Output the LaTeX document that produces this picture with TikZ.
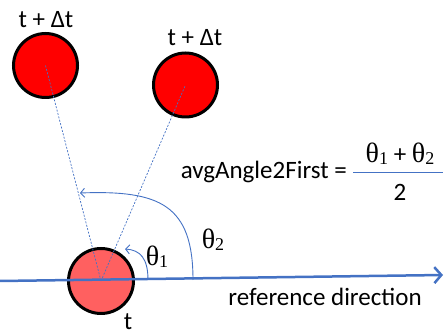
\documentclass[tikz,border=0pt]{standalone}
\usepackage{fontspec}
\setmainfont{Carlito}
\newfontfamily\thfont{Liberation Serif}
\usetikzlibrary{arrows.meta}
\definecolor{lblue}{RGB}{68,114,196}
\definecolor{lightred}{RGB}{255,96,96}
\newcommand\thsub[1]{{\thfont\fontsize{28}{28}\selectfont θ}\raisebox{-0.4ex}{\thfont\fontsize{18}{18}\selectfont #1}}
\tikzset{
  ball/.style={circle, draw=black, line width=3pt, inner sep=0pt, minimum size=64pt},
  lbl/.style={font=\fontsize{25}{25}\selectfont, inner sep=0pt},
  thlbl/.style={inner sep=0pt},
  guide/.style={draw=lblue, line width=0.7pt, dash pattern=on 2pt off 1.5pt},
  angarc/.style={draw=lblue, line width=0.9pt, -{Straight Barb[length=4pt,width=9pt]}},
  refline/.style={draw=lblue, line width=2.5pt, -{Straight Barb[length=7pt,width=16pt,line width=2.5pt]}},
}
\begin{document}
\begin{tikzpicture}[x=1pt,y=-1pt]
\useasboundingbox (0,0) rectangle (445,336);
% circles
\node[ball, fill=red] (c1) at (45.5,65.5) {};
\node[ball, fill=red] (c2) at (185.5,85) {};
\node[ball, fill=lightred, minimum size=65pt] (c0) at (101,281) {};
% labels of circles
\node[lbl] (l1) at (46,20) {t + Δt};
\node[lbl] (l2) at (195,38) {t + Δt};
\node[lbl] (l0) at (128,322) {t};
% reference direction
\coordinate (rs) at (0,281);
\coordinate (re) at (443,275);
\draw[refline] (rs) -- (re);
\node[lbl] (rd) at (325,297) {reference direction};
% guide lines
\draw[guide] (c0.center) -- (c1.center);
\draw[guide] (c0.center) -- (c2.center);
% angle arcs
\coordinate (a1s) at (148,280);
\coordinate (a1e) at (125,249);
\draw[angarc] (a1s) .. controls (148,258) and (140,250) .. (a1e);
\coordinate (a2s) at (193,280);
\coordinate (a2e) at (80,193);
\draw[angarc] (a2s) .. controls (193,205) and (160,190) .. (a2e);
\node[thlbl] (t1) at (157,257) {\thsub{1}};
\node[thlbl] (t2) at (213,240) {\thsub{2}};
% formula
\node[lbl, anchor=east] (lhs) at (347,172) {avgAngle2First =};
\coordinate (fs) at (353,172);
\coordinate (fe) at (443,172);
\draw[draw=lblue, line width=0.9pt] (fs) -- (fe);
\node[thlbl] (num) at (400,154) {\thsub{1}{\fontsize{25}{25}\selectfont\ + }\thsub{2}};
\node[lbl] (den) at (400,192) {2};
\end{tikzpicture}
\end{document}
